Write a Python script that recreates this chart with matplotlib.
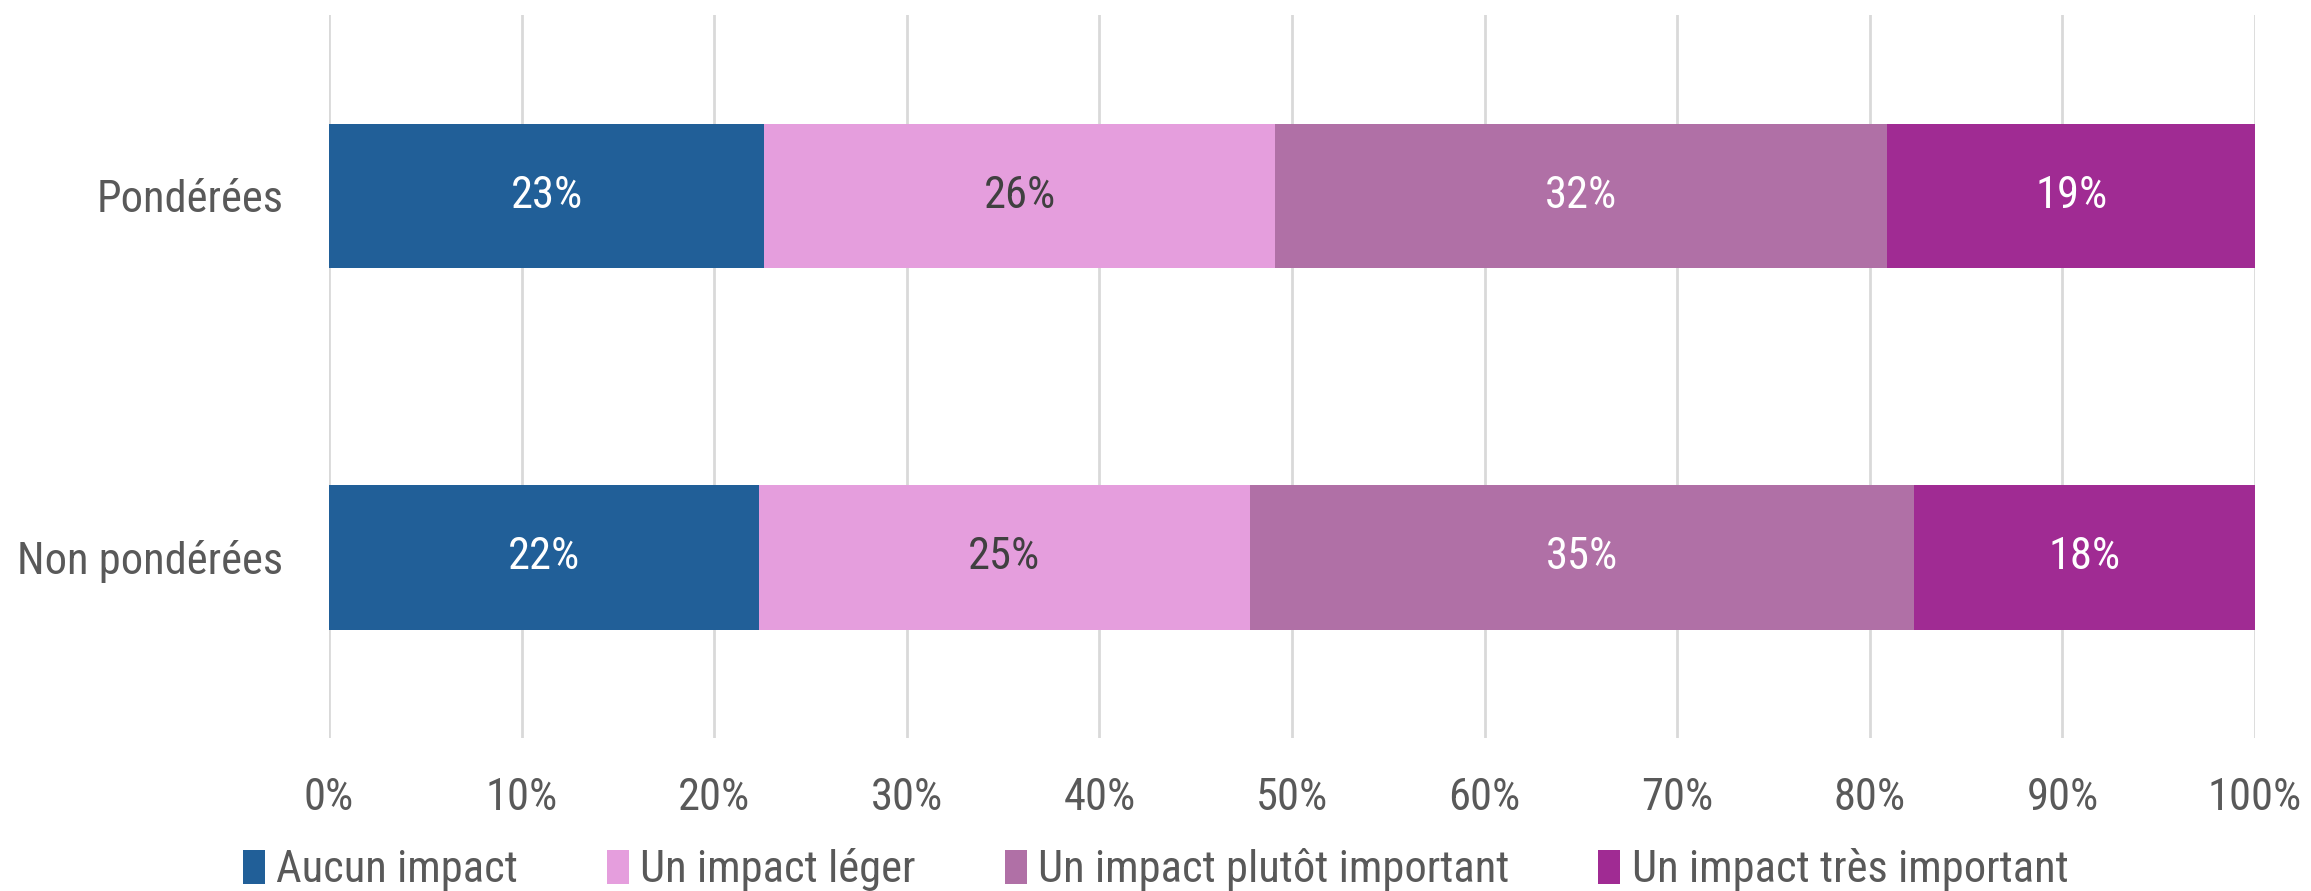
import numpy as np
import matplotlib.pyplot as plt
from matplotlib import font_manager

categories = ["Non pondérées", "Pondérées"]
series_names = ["Aucun impact", "Un impact léger", "Un impact plutôt important", "Un impact très important"]
aucun = [22.3, 22.6]
leger = [25.5, 26.5]
plutot = [34.5, 31.8]
tres = [17.7, 19.1]
labels_txt = [["22%", "23%"], ["25%", "26%"], ["35%", "32%"], ["18%", "19%"]]

colors = ["#215F98", "#E59EDD", "#B070A6", "#A02B93"]
text_colors = ["white", "#404040", "white", "white"]

names = set(f.name for f in font_manager.fontManager.ttflist)
fam = "Roboto"
for cand in ["Liberation Sans Narrow", "Roboto Condensed", "Open Sans Condensed", "Roboto"]:
    if cand in names:
        fam = cand
        break
plt.rcParams['font.family'] = [fam, 'DejaVu Sans']

fs = 32

fig = plt.figure(figsize=(23.11, 8.91), dpi=100)
ax = fig.add_axes([0.1424, 0.1717, 0.8334, 0.8113])

y = np.arange(len(categories))
left = np.zeros(len(categories))
for vals, name, col, tc, lab in zip([aucun, leger, plutot, tres], series_names, colors, text_colors, labels_txt):
    vals = np.array(vals)
    ax.barh(y, vals, left=left, height=0.4, color=col, label=name, zorder=3)
    for yi, v, l0, t in zip(y, vals, left, lab):
        ax.text(l0 + v / 2, yi, t, ha='center', va='center', color=tc, fontsize=fs, zorder=4)
    left += vals

ax.set_xlim(0, 100)
ax.set_ylim(-0.5, 1.5)
ax.set_xticks(np.arange(0, 101, 10))
ax.set_xticklabels([f"{t}%" for t in range(0, 101, 10)])
ax.set_yticks(y)
ax.set_yticklabels(categories)
ax.tick_params(axis='both', length=0, labelsize=fs, labelcolor='#595959')
ax.tick_params(axis='x', pad=28)
ax.tick_params(axis='y', pad=33)
ax.grid(axis='x', color='#D9D9D9', linewidth=2, zorder=0)
for s in ax.spines.values():
    s.set_visible(False)

fig.legend(loc='center', bbox_to_anchor=(0.5, 0.024), ncol=4, frameon=False,
           fontsize=fs, labelcolor='#595959', handlelength=0.5, handleheight=0.8,
           handletextpad=0.25, columnspacing=2.0)

fig.savefig("out.png", dpi=100)
